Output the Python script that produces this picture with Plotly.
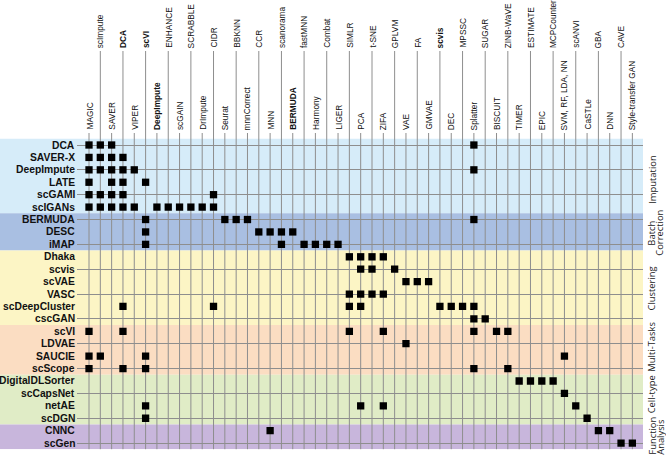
import plotly.graph_objects as go

W, H = 666, 457

columns = ["MAGIC", "scImpute", "SAVER", "DCA", "VIPER", "scVI", "DeepImpute", "ENHANCE",
           "scGAIN", "SCRABBLE", "DrImpute", "CIDR", "Seurat", "BBKNN", "mnnCorrect", "CCR",
           "MNN", "scanorama", "BERMUDA", "fastMNN", "Harmony", "Combat", "LIGER", "SIMLR",
           "PCA", "t-SNE", "ZIFA", "GPLVM", "VAE", "FA", "GMVAE", "scvis", "DEC", "MPSSC",
           "Splatter", "SUGAR", "BISCUIT", "ZINB-WaVE", "TIMER", "ESTIMATE", "EPIC",
           "MCPCounter", "SVM, RF, LDA, NN", "scANVI", "CaSTLe", "GBA", "DNN", "CAVE",
           "Style-transfer GAN"]
bold_columns = ["DCA", "scVI", "DeepImpute", "BERMUDA", "scvis"]

imputation = ["DCA", "SAVER-X", "DeepImpute", "LATE", "scGAMI", "scIGANs"]
batch_correction = ["BERMUDA", "DESC", "iMAP"]
clustering = ["Dhaka", "scvis", "scVAE", "VASC", "scDeepCluster", "cscGAN"]
multi_tasks = ["scVI", "LDVAE", "SAUCIE", "scScope"]
cell_type = ["DigitalDLSorter", "scCapsNet", "netAE", "scDGN"]
function_analysis = ["CNNC", "scGen"]

links = {
    "DCA": ["MAGIC", "scImpute", "SAVER", "Splatter"],
    "SAVER-X": ["MAGIC", "scImpute", "SAVER", "DCA"],
    "DeepImpute": ["MAGIC", "scImpute", "SAVER", "DCA", "VIPER", "Splatter"],
    "LATE": ["MAGIC", "SAVER", "DCA", "scVI"],
    "scGAMI": ["MAGIC", "scImpute", "SAVER", "DCA", "CIDR"],
    "scIGANs": ["MAGIC", "scImpute", "SAVER", "DCA", "VIPER", "DeepImpute", "ENHANCE",
                "scGAIN", "SCRABBLE", "DrImpute", "CIDR"],
    "BERMUDA": ["scVI", "Seurat", "BBKNN", "mnnCorrect", "Splatter"],
    "DESC": ["scVI", "CCR", "MNN", "scanorama", "BERMUDA"],
    "iMAP": ["scVI", "scanorama", "fastMNN", "Harmony", "Combat", "LIGER"],
    "Dhaka": ["SIMLR", "PCA", "t-SNE", "ZIFA"],
    "scvis": ["PCA", "t-SNE", "GPLVM"],
    "scVAE": ["VAE", "FA", "GMVAE"],
    "VASC": ["SIMLR", "PCA", "t-SNE", "ZIFA"],
    "scDeepCluster": ["DCA", "CIDR", "SIMLR", "PCA", "scvis", "DEC", "MPSSC", "Splatter"],
    "cscGAN": ["Splatter", "SUGAR"],
    "scVI": ["MAGIC", "DCA", "SIMLR", "ZIFA", "Splatter", "BISCUIT", "ZINB-WaVE"],
    "LDVAE": ["VAE"],
    "SAUCIE": ["MAGIC", "scImpute", "scVI", "SVM, RF, LDA, NN"],
    "scScope": ["MAGIC", "DCA", "scVI", "Splatter", "ZINB-WaVE"],
    "DigitalDLSorter": ["TIMER", "ESTIMATE", "EPIC", "MCPCounter"],
    "scCapsNet": ["SVM, RF, LDA, NN"],
    "netAE": ["scVI", "PCA", "ZIFA", "scANVI"],
    "scDGN": ["scVI", "CaSTLe"],
    "CNNC": ["MNN", "GBA", "DNN"],
    "scGen": ["CAVE", "Style-transfer GAN"],
}

groups = [
    (imputation, "#d6ecf9", ["Imputation"]),
    (batch_correction, "#a9bfe2", ["Batch", "Correction"]),
    (clustering, "#fcf5c5", ["Clustering"]),
    (multi_tasks, "#fbddc2", ["Multi-Tasks"]),
    (cell_type, "#e0ecc6", ["Cell-type"]),
    (function_analysis, "#c8b6dc", ["Function", "Analysis"]),
]
# vertical offset (pixels) of each side label relative to its band centre
label_shift_px = [4, 1, 1, -3, -5, None]

rows = [r for g in groups for r in g[0]]

# ---- geometry (pixels) ----
x_left_px, x_right_px = 77, 643
col0_px, col_step = 89, 11.32
grid_bottom_px = 449.2
row0_px, row_step = 145.0, 12.42

x_range = [(x_left_px - col0_px) / col_step, (x_right_px - col0_px) / col_step]
y_top_idx = -row0_px / row_step
y_bot_idx = (grid_bottom_px - row0_px) / row_step

xs, ys = [], []
for r in rows:
    for c in links.get(r, []):
        xs.append(c)
        ys.append(r)

fig = go.Figure()
fig.add_trace(go.Scatter(
    x=xs, y=ys, mode="markers",
    marker=dict(symbol="square", size=7.3, color="black", line=dict(width=0)),
    hoverinfo="x+y", showlegend=False,
))

shapes = []
annotations = []

# bands
for members, color, _ in groups:
    i0 = rows.index(members[0])
    i1 = rows.index(members[-1])
    shapes.append(dict(type="rect", xref="paper", yref="y",
                       x0=0, x1=x_right_px / W, y0=i0 - 0.5, y1=i1 + 0.5,
                       fillcolor=color, line=dict(width=0), layer="below"))

# vertical column lines (extend up to labels) and column labels
even_label_bottom_px, odd_label_bottom_px = 49, 131
for i, c in enumerate(columns):
    bottom_px = even_label_bottom_px if i % 2 == 1 else odd_label_bottom_px
    shapes.append(dict(type="line", xref="x", yref="paper",
                       x0=c, x1=c, y0=1 - (bottom_px + 2) / H, y1=1 - grid_bottom_px / H,
                       line=dict(color="#8e8e8e", width=1), layer="below"))
    txt = f"<b>{c}</b>" if c in bold_columns else c
    annotations.append(dict(xref="x", yref="paper", x=c, y=1 - bottom_px / H,
                            text=txt, textangle=-90, showarrow=False,
                            xanchor="center", yanchor="bottom", borderpad=0,
                            font=dict(family="Liberation Sans, Arial", size=8.3,
                                      color="#111")))

# row labels
for r in rows:
    annotations.append(dict(xref="paper", yref="y", x=76 / W, y=r,
                            text=f"<b>{r}</b>", showarrow=False,
                            xanchor="right", yanchor="middle", borderpad=0,
                            font=dict(family="Liberation Sans, Arial", size=10.3,
                                      color="#111")))

# side category labels (paper coordinates)
side_font = dict(family="Open Sans", size=9.4, color="#222")
for (members, _, lines), shift in zip(groups, label_shift_px):
    i0 = rows.index(members[0])
    i1 = rows.index(members[-1])
    centre_px = row0_px + row_step * (i0 + i1) / 2
    xs_px = [651.7] if len(lines) == 1 else [651.7, 659.8]
    for ln, xp in zip(lines, xs_px):
        if shift is None:
            ann = dict(y=1 - 456 / H, yanchor="bottom")
        else:
            ann = dict(y=1 - (centre_px + shift) / H, yanchor="middle")
        annotations.append(dict(xref="paper", yref="paper", x=xp / W,
                                text=ln, textangle=-90, showarrow=False,
                                xanchor="center", borderpad=0, font=side_font, **ann))

fig.update_layout(
    width=W, height=H,
    margin=dict(l=0, r=0, t=0, b=0, autoexpand=False),
    paper_bgcolor="white", plot_bgcolor="white",
    showlegend=False,
    shapes=shapes,
    annotations=annotations,
    xaxis=dict(type="category", categoryorder="array", categoryarray=columns,
               domain=[x_left_px / W, x_right_px / W], range=x_range,
               showgrid=False, zeroline=False, showticklabels=False, ticks="",
               showline=False, fixedrange=True),
    yaxis=dict(type="category", categoryorder="array", categoryarray=rows,
               domain=[1 - grid_bottom_px / H, 1], range=[y_bot_idx, y_top_idx],
               showgrid=True, gridcolor="#8e8e8e", gridwidth=1,
               zeroline=False, showticklabels=False, ticks="",
               showline=False, fixedrange=True),
)

fig.write_html("out.html",
               config={"displayModeBar": False},
               post_script="document.body.style.margin='0px';"
                           "document.body.style.overflow='hidden';")
